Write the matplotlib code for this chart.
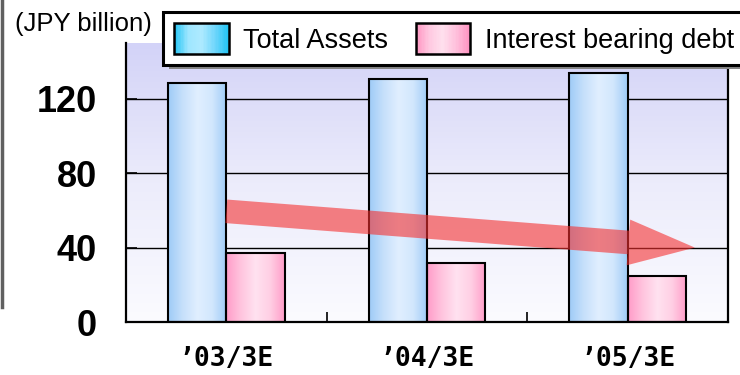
import numpy as np
import matplotlib
matplotlib.use("Agg")
import matplotlib.pyplot as plt
from matplotlib.colors import LinearSegmentedColormap
from matplotlib.patches import Rectangle
from matplotlib.legend_handler import HandlerBase
from matplotlib.lines import Line2D

categories = ["’03/3E", "’04/3E", "’05/3E"]
total_assets = [128.5, 130.5, 134.0]
debt = [37.0, 31.5, 25.0]
series_names = ["Total Assets", "Interest bearing debt"]
yticks = [0, 40, 80, 120]
unit_label = "(JPY billion)"

blue_cmap = LinearSegmentedColormap.from_list(
    "b", ["#9ecbf7", "#c6e0fb", "#e0efff", "#d2e7fd", "#9ecbf7"])
pink_cmap = LinearSegmentedColormap.from_list(
    "p", ["#ff9cc8", "#ffc4de", "#ffe2f0", "#ffcfe4", "#ff9cc8"])
leg_blue = ["#22c4f4", "#9ee6ff", "#aeeaff", "#70d6fb", "#22c4f4"]
leg_pink = ["#ff92c0", "#ffc8e0", "#ffe0ee", "#ffc0dc", "#ff92c0"]

W, H = 740, 375
fig = plt.figure(figsize=(W/100, H/100), dpi=100)
ax = fig.add_axes([126/W, 1-322/H, (728-126)/W, (322-43)/H])

x = np.arange(len(categories))
w = 0.29

# background gradient
bg_cmap = LinearSegmentedColormap.from_list("bg", ["#fbfbff", "#ececfb", "#d3d3f8"])
grad = np.linspace(0, 1, 256).reshape(-1, 1)
ax.imshow(grad, aspect="auto", cmap=bg_cmap, origin="lower",
          extent=(-0.5, 2.5, 0, 150), zorder=0)

# gridlines
for t in yticks[1:]:
    ax.axhline(t, color="black", lw=1.0, zorder=1)

hgrad = np.linspace(0, 1, 256).reshape(1, -1)

def grad_bars(xs, vals, cmap):
    bars = ax.bar(xs, vals, width=w, color="none", edgecolor="black",
                  linewidth=1.5, zorder=3)
    for b in bars:
        bx, by = b.get_x(), b.get_y()
        im = ax.imshow(hgrad, aspect="auto", cmap=cmap,
                       extent=(bx, bx + b.get_width(), by, by + b.get_height()),
                       zorder=2)
        im.set_clip_path(b)
    return bars

grad_bars(x - w/2, total_assets, blue_cmap)
grad_bars(x + w/2, debt, pink_cmap)
ax.set_xlim(-0.5, 2.5)
ax.set_ylim(0, 150)

# trend arrow
ax.annotate("", xy=(2.335, 40), xytext=(0.0, 59.5),
            arrowprops=dict(arrowstyle="simple,head_length=4.8,head_width=3.3,tail_width=1.7",
                            mutation_scale=10, color="#f53030", alpha=0.6,
                            shrinkA=0, shrinkB=0, lw=0),
            zorder=5)

# axes styling
ax.spines["top"].set_visible(False)
for s in ["left", "bottom", "right"]:
    ax.spines[s].set_linewidth(1.6)
ax.set_yticks(yticks)
ax.set_yticklabels([str(t) for t in yticks], fontsize=26, fontweight="bold",
                   family="Liberation Sans")
ax.tick_params(axis="y", direction="in", length=8, width=1.2, pad=21)
ax.set_xticks(x)
ax.set_xticklabels(categories, fontsize=19, fontweight="bold",
                   family="DejaVu Sans Mono")
ax.tick_params(axis="x", length=0, pad=17)
ax.set_xticks([0.5, 1.5], minor=True)
ax.tick_params(axis="x", which="minor", direction="in", length=7, width=1.2)

# legend with gradient handles
class GradHandler(HandlerBase):
    def __init__(self, colors):
        super().__init__()
        self.colors = colors
    def create_artists(self, legend, orig_handle, xdescent, ydescent,
                       width, height, fontsize, trans):
        cmap = LinearSegmentedColormap.from_list("h", self.colors)
        n = 40
        arts = []
        for i in range(n):
            r = Rectangle((-xdescent + width*i/n, -ydescent), width/n + 0.3, height,
                          facecolor=cmap((i + 0.5)/n), edgecolor="none",
                          transform=trans)
            arts.append(r)
        border = Rectangle((-xdescent, -ydescent), width, height, facecolor="none",
                           edgecolor="black", linewidth=1.8, transform=trans)
        arts.append(border)
        return arts

h1 = Line2D([], [])
h2 = Line2D([], [])
leg = fig.legend([h1, h2], series_names, loc="upper left",
                 bbox_to_anchor=(163/W, 1-12/H), borderaxespad=0,
                 ncol=2, frameon=True, fancybox=False, shadow=False,
                 framealpha=1.0,
                 prop={"family": "Liberation Sans", "size": 19.5},
                 handlelength=2.0, handleheight=1.35, handletextpad=0.55,
                 columnspacing=1.0, borderpad=0.42,
                 handler_map={h1: GradHandler(leg_blue), h2: GradHandler(leg_pink)})
leg.get_frame().set_edgecolor("black")
leg.get_frame().set_facecolor("white")
leg.get_frame().set_linewidth(2.2)
leg.set_zorder(6)

# legend drop shadow
fig.add_artist(Rectangle((169/W, 1-69/H), (760-169)/W, 52/H, facecolor="#858585",
                         edgecolor="none", transform=fig.transFigure, zorder=5))

# unit label
fig.text(15/W, 1-24/H, unit_label, fontsize=18.5, family="Liberation Sans",
         va="center", ha="left")

# left gray border line
fig.add_artist(Line2D([1.5/W, 1.5/W], [1.0, 1-307/H], color="#606060",
                      lw=2.5, transform=fig.transFigure))

fig.savefig("out.png", dpi=100)
